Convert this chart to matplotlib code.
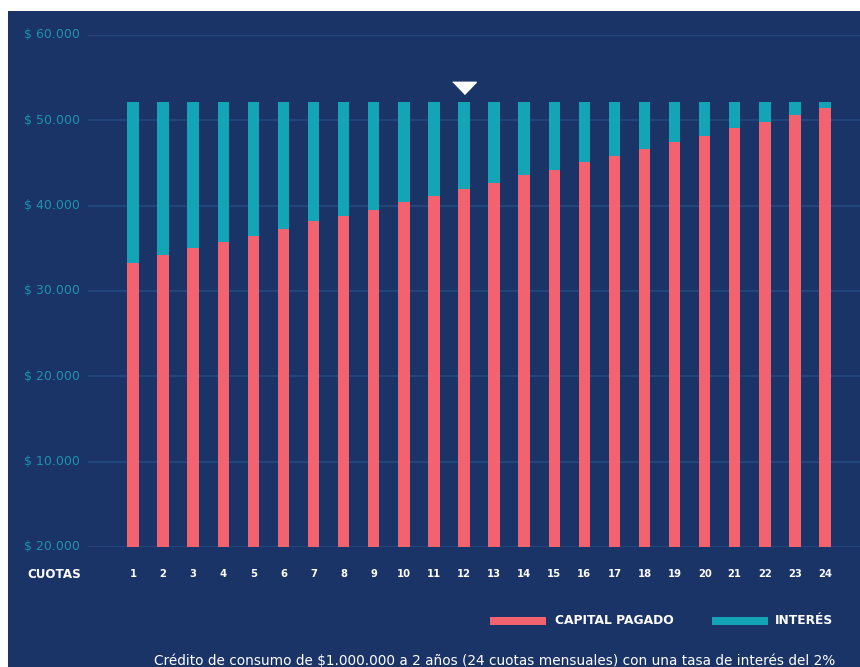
import matplotlib
matplotlib.use("Agg")
import matplotlib.pyplot as plt
from matplotlib.patches import Rectangle
import numpy as np

# Monthly instalments of a consumer loan: capital and interest per instalment
cuotas = list(range(1, 25))
capital_pagado = [33330, 34200, 35020, 35760, 36500, 37320, 38220, 38840,
                  39510, 40410, 41150, 41930, 42710, 43580, 44200, 45160,
                  45840, 46620, 47440, 48220, 49090, 49820, 50640, 51430]
interes = [18760, 17890, 17070, 16330, 15590, 14770, 13870, 13250,
           12580, 11680, 10940, 10160, 9380, 8510, 7890, 6930,
           6250, 5470, 4650, 3870, 3000, 2270, 1450, 660]
y_ticks = [0, 10000, 20000, 30000, 40000, 50000, 60000]
y_labels = ["$ 20.000", "$ 10.000", "$ 20.000", "$ 30.000",
            "$ 40.000", "$ 50.000", "$ 60.000"]
cuota_marcada = 12
marcador_y = 53900

NAVY = "#1b3468"
GRID = "#22457c"
RED = "#f2636f"
TEAL = "#13a5b5"
LABEL = "#1ea3b8"

W, H = 860, 667
fig = plt.figure(figsize=(W / 100, H / 100), dpi=100)
fig.patch.set_facecolor("white")

def px(x, y):
    return x / W, 1 - y / H

# navy panel behind everything
fig.patches.append(Rectangle(px(8, 667), (W - 8) / W, (667 - 11) / H,
                             transform=fig.transFigure, facecolor=NAVY,
                             edgecolor="none", zorder=-10))

ax_left, ax_right, ax_top, ax_bottom = 88, 860, 35, 547
ax = fig.add_axes([ax_left / W, 1 - ax_bottom / H,
                   (ax_right - ax_left) / W, (ax_bottom - ax_top) / H])
ax.set_facecolor("none")
ax.set_zorder(1)

x = np.array(cuotas)
ax.bar(x, capital_pagado, width=0.38, color=RED, zorder=3)
ax.bar(x, interes, bottom=capital_pagado, width=0.38, color=TEAL, zorder=3)

ax.set_xlim(-0.496, 25.163)
ax.set_ylim(0, 60000)
for t in y_ticks:
    ax.axhline(t, color=GRID, lw=1.5, zorder=1)

# marker above the highlighted instalment
tri = [(-0.5, 0.22), (0.5, 0.22), (0.0, -0.3)]
ax.plot([cuota_marcada], [marcador_y], marker=tri, markersize=17,
        color="white", linestyle="none", zorder=4, clip_on=False)

for s in ax.spines.values():
    s.set_visible(False)
ax.set_xticks([])
ax.set_yticks([])

FONT = ["DejaVu Sans"]

# y-axis labels
for t, lab in zip(y_ticks, y_labels):
    yp = ax_bottom - (ax_bottom - ax_top) * t / 60000
    fig.text(*px(24, yp), lab, color=LABEL, fontsize=9, family=FONT,
             ha="left", va="center", alpha=0.85)

# x-axis labels
for c in cuotas:
    xd = ax.transData.transform((c, 0))[0]
    fig.text(xd / W, 1 - 574 / H, str(c), color="white", fontsize=7.2,
             family=FONT, fontweight="bold", ha="center", va="center")
fig.text(*px(27, 574), "CUOTAS", color="white", fontsize=8.6, family=FONT,
         fontweight="bold", ha="left", va="center")

# legend
def legend_item(x0, x1, tx, text, color):
    fig.patches.append(Rectangle(px(x0, 625), (x1 - x0) / W, 8 / H,
                                 transform=fig.transFigure, facecolor=color,
                                 edgecolor="none"))
    fig.text(*px(tx, 621), text, color="white", fontsize=8.8, family=FONT,
             fontweight="bold", ha="left", va="center")

legend_item(490, 546, 555, "CAPITAL PAGADO", RED)
legend_item(712, 768, 775, "INTERÉS", TEAL)

fig.text(*px(835, 661),
         "Crédito de consumo de $1.000.000 a 2 años (24 cuotas mensuales) "
         "con una tasa de interés del 2%",
         color="white", fontsize=9.8, family=FONT, ha="right", va="center")

fig.savefig("out.png", dpi=100)
